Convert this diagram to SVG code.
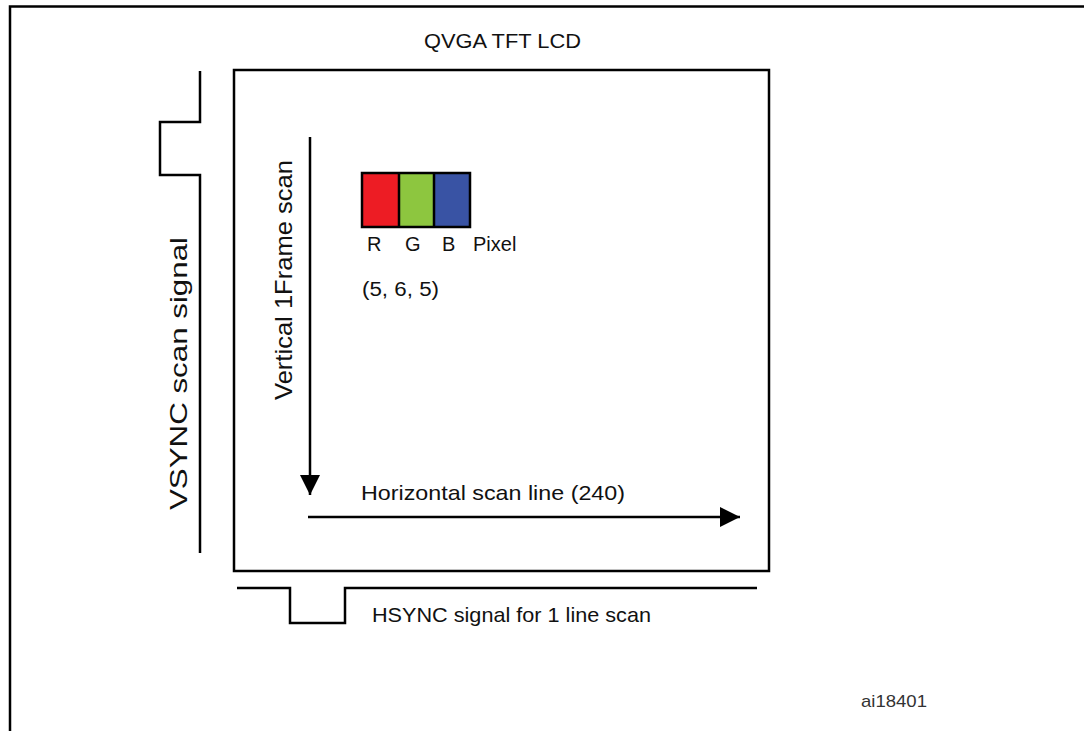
<svg xmlns="http://www.w3.org/2000/svg" width="1084" height="731" viewBox="0 0 1084 731">
<defs>
<style>
.ln{fill:none;stroke:#000;stroke-width:2.5;stroke-linejoin:miter;stroke-linecap:butt}
.t{font-family:"Liberation Sans",Arial,sans-serif;fill:#111}
</style>
<marker id="ah" viewBox="0 0 10 10" refX="10" refY="5" markerWidth="20" markerHeight="20" markerUnits="userSpaceOnUse" orient="auto">
<path d="M0,0 L10,5 L0,10 Z" fill="#000"/>
</marker>
</defs>
<rect width="1084" height="731" fill="#fff"/>
<g id="frame">
<path class="ln" d="M10,731 V6.5 H1084"/>
</g>
<g id="lcd">
<rect x="234" y="70" width="535" height="501" class="ln"/>
<text class="t" x="424" y="48" font-size="20" textLength="157" lengthAdjust="spacingAndGlyphs">QVGA TFT LCD</text>
</g>
<g id="pixel">
<rect x="362" y="173" width="37" height="54" fill="#ED1C24"/>
<rect x="399" y="173" width="35" height="54" fill="#8DC63F"/>
<rect x="434" y="173" width="36" height="54" fill="#3953A4"/>
<path class="ln" d="M362,173 H470 V227 H362 Z M399,173 V227 M434,173 V227"/>
<text class="t" x="367" y="251" font-size="20">R</text>
<text class="t" x="405" y="251" font-size="20">G</text>
<text class="t" x="442" y="251" font-size="20">B</text>
<text class="t" x="473" y="251" font-size="20">Pixel</text>
<text class="t" x="362" y="296" font-size="20" textLength="77" lengthAdjust="spacingAndGlyphs">(5, 6, 5)</text>
</g>
<g id="vsync">
<path class="ln" d="M200,71 V122 H160 V175 H200 V553"/>
<text class="t" transform="translate(187,510) rotate(-90)" font-size="24" textLength="273" lengthAdjust="spacingAndGlyphs">VSYNC  scan signal</text>
</g>
<g id="hsync">
<path class="ln" d="M237,588 H290 V623 H345 V588 H757"/>
<text class="t" x="372" y="622" font-size="21" textLength="279" lengthAdjust="spacingAndGlyphs">HSYNC signal for 1 line scan</text>
</g>
<g id="connectors">
<line class="ln" x1="310" y1="137" x2="310" y2="495" marker-end="url(#ah)"/>
<line class="ln" x1="308" y1="517" x2="740" y2="517" marker-end="url(#ah)"/>
</g>
<g id="labels">
<text class="t" transform="translate(292,400) rotate(-90)" font-size="24" textLength="240" lengthAdjust="spacingAndGlyphs">Vertical  1Frame  scan</text>
<text class="t" x="361" y="500" font-size="21" textLength="264" lengthAdjust="spacingAndGlyphs">Horizontal scan line (240)</text>
<text x="861" y="707" font-size="17" textLength="66" lengthAdjust="spacingAndGlyphs" style="font-family:'Liberation Sans',Arial,sans-serif;fill:#333">ai18401</text>
</g>
</svg>
